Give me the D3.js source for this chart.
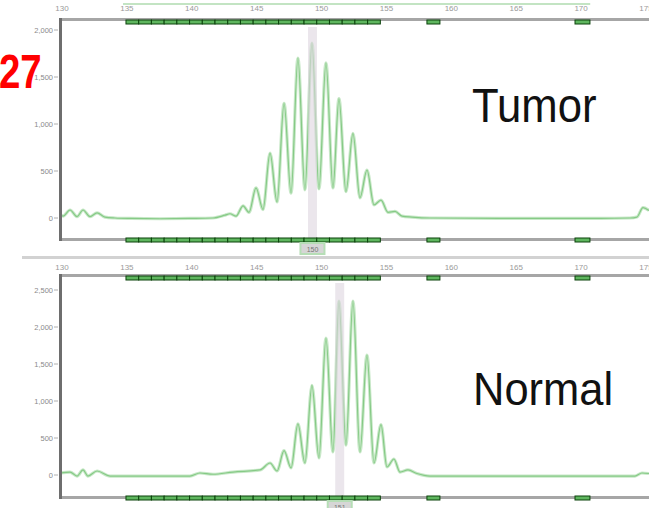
<!DOCTYPE html>
<html><head><meta charset="utf-8">
<script src="https://cdn.jsdelivr.net/npm/d3@7"></script>
<style>html,body{margin:0;padding:0;background:#fff;}svg{display:block;}</style>
</head><body><svg id="c" width="649" height="508"></svg>
<script>
const sizeTicks = [130,135,140,145,150,155,160,165,170,175];
const tumorYTicks = [0,500,1000,1500,2000];
const normalYTicks = [0,500,1000,1500,2000,2500];

const tumorSize = [129.85,130.08,130.62,131.16,131.62,132.16,132.70,133.31,134.08,135.24,137.55,139.86,141.63,142.56,142.94,143.41,143.95,144.41,144.95,145.49,146.03,146.57,147.11,147.65,148.18,148.72,149.26,149.80,150.34,150.88,151.34,151.88,152.42,152.96,153.50,154.04,154.58,155.12,155.66,156.20,156.97,158.35,163.75,171.45,173.76,174.30,174.77,175.23];
const tumorRfu  = [40,20,85,15,85,15,55,10,0,-5,-8,-5,0,30,45,20,130,60,320,90,690,170,1220,265,1700,300,1860,310,1650,320,1270,280,900,215,510,140,190,60,70,20,10,0,-5,-5,0,10,110,80];

const normalSize = [129.85,130.62,131.16,131.62,132.00,132.70,133.70,139.86,140.63,141.63,143.18,145.26,146.03,146.57,147.11,147.65,148.18,148.72,149.26,149.80,150.34,150.88,151.34,151.88,152.42,152.96,153.50,154.04,154.58,155.04,155.58,156.04,156.66,157.35,158.35,165.29,174.15,174.69,175.23];
const normalRfu  = [27,40,-14,68,-14,54,-14,-14,27,10,40,68,162,54,330,95,690,162,1210,230,1850,311,2350,405,2350,311,1620,162,680,108,216,40,68,20,-14,-14,-14,27,20];

const binStarts = [134.93,135.91,136.89,137.87,138.85,139.83,140.81,141.79,142.77,143.75,144.73,145.71,146.69,147.67,148.65,149.63,150.61,151.59,152.57,153.55,158.12,169.53];
const binWidths = [0.98,0.98,0.98,0.98,0.98,0.98,0.98,0.98,0.98,0.98,0.98,0.98,0.98,0.98,0.98,0.98,0.98,0.98,0.98,0.98,1.0,1.15];

const panels = [
  {name:"Tumor", size:tumorSize, rfu:tumorRfu, yTicks:tumorYTicks, yMax:2000,
   labelY:11, top:19, bottom:240, y0:218, yTopPx:30, call:149.3, callLabel:"150",
   titleX:472, titleY:122, titleSize:48, titleScale:0.91},
  {name:"Normal", size:normalSize, rfu:normalRfu, yTicks:normalYTicks, yMax:2500,
   labelY:270, top:275, bottom:498, y0:475, yTopPx:290, call:151.4, callLabel:"151",
   titleX:473, titleY:405, titleSize:46, titleScale:0.946}
];

const svg = d3.select("#c");
const W = 649;
const x = d3.scaleLinear().domain([130,175]).range([62,646]);

svg.append("rect").attr("x", x(134.7)).attr("y", 3).attr("width", x(170.7)-x(134.7)).attr("height", 2).attr("fill", "#c3e4c3");
svg.append("rect").attr("x", 22).attr("y", 256).attr("width", W-22).attr("height", 3).attr("fill", "#d2d2d2");

panels.forEach((p, i) => {
  const y = d3.scaleLinear().domain([0, p.yMax]).range([p.y0, p.yTopPx]);
  const g = svg.append("g");
  g.selectAll("text.xt").data(sizeTicks).join("text")
    .attr("x", d => x(d)).attr("y", p.labelY).attr("text-anchor", "middle")
    .attr("font-family", "Liberation Sans, Arial, sans-serif").attr("font-size", 8)
    .attr("fill", "#9a9a9a").text(d => String(d));
  const cid = "clip" + i;
  svg.append("clipPath").attr("id", cid).append("rect")
    .attr("x", 61).attr("y", p.top + 2).attr("width", W - 61).attr("height", p.bottom - p.top - 2);
  const pg = g.append("g").attr("clip-path", `url(#${cid})`);
  const pts = p.size.map((s, k) => [s, p.rfu[k]]);
  const line = d3.line().x(d => x(d[0])).y(d => y(d[1])).curve(d3.curveMonotoneX);
  pg.append("path").datum(pts).attr("d", line).attr("fill", "none")
    .attr("stroke", "#c8e8c8").attr("stroke-width", 3.2).attr("stroke-linejoin", "round");
  pg.append("path").datum(pts).attr("d", line).attr("fill", "none")
    .attr("stroke", "#86ca86").attr("stroke-width", 1.2).attr("stroke-linejoin", "round");
  pg.append("rect").attr("x", x(p.call) - 4.5).attr("y", p.top + 8).attr("width", 9)
    .attr("height", p.bottom - p.top - 6).attr("fill", "#ddd5e0").attr("opacity", 0.6);
  [p.top, p.bottom - 1].forEach(yy => {
    g.append("rect").attr("x", 60).attr("y", yy - 1).attr("width", W - 60).attr("height", 3).attr("fill", "#a6a6a6");
    g.selectAll(null).data(binStarts).join("rect")
      .attr("x", d => x(d)).attr("y", yy + (yy === p.top ? 1 : -1)).attr("width", (d, k) => x(d + binWidths[k]) - x(d))
      .attr("height", 4).attr("fill", "#5fb65f").attr("stroke", "#0b420b").attr("stroke-width", 1);
  });
  g.append("rect").attr("x", 59).attr("y", p.top - 1).attr("width", 3).attr("height", p.bottom - p.top + 2).attr("fill", "#6e6e6e");
  const fmt = d3.format(",");
  g.selectAll("text.yt").data(p.yTicks).join("text")
    .attr("x", 53).attr("y", d => y(d) + 3).attr("text-anchor", "end")
    .attr("font-family", "Liberation Sans, Arial, sans-serif").attr("font-size", 7.5)
    .attr("fill", "#8a8a8a").text(d => fmt(d));
  g.selectAll("line.yt").data(p.yTicks).join("line")
    .attr("x1", 54).attr("x2", 58).attr("y1", d => y(d)).attr("y2", d => y(d))
    .attr("stroke", "#b0b0b0").attr("stroke-width", 1);
  const by = p.bottom + 3;
  g.append("rect").attr("x", x(p.call) - 12).attr("y", by).attr("width", 24).attr("height", 11)
    .attr("fill", "#d6d6d6").attr("stroke", "#b6deb6").attr("stroke-width", 2);
  g.append("text").attr("x", x(p.call)).attr("y", by + 8.5).attr("text-anchor", "middle")
    .attr("font-family", "Liberation Sans, Arial, sans-serif").attr("font-size", 7)
    .attr("fill", "#777").text(p.callLabel);
  g.append("text").attr("transform", `translate(${p.titleX},${p.titleY}) scale(${p.titleScale},1)`)
    .attr("font-family", "Liberation Sans, Arial, sans-serif").attr("font-size", p.titleSize)
    .attr("fill", "#111").text(p.name);
});

svg.append("text").attr("transform", "translate(-1,88) scale(0.8,1)")
  .attr("font-family", "Liberation Sans, Arial, sans-serif").attr("font-weight", "bold")
  .attr("font-size", 48).attr("fill", "#ff0000").text("27");
</script></body></html>
